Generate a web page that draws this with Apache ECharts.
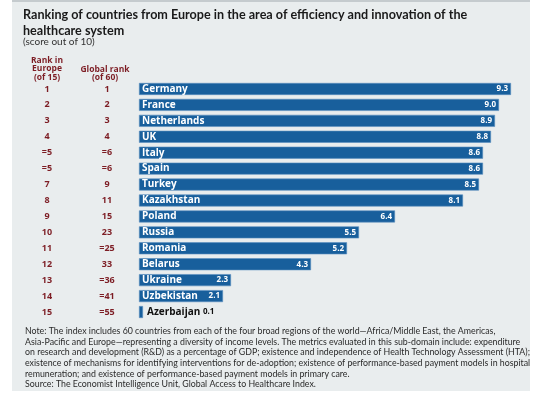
<!DOCTYPE html>
<html>
<head>
<meta charset="utf-8">
<script src="https://cdn.jsdelivr.net/npm/echarts@6/dist/echarts.min.js"></script>
<style>
  html, body { margin: 0; padding: 0; background: #ffffff; }
  #chart { width: 552px; height: 396px; }
</style>
</head>
<body>
<div id="chart"></div>
<script>
// data
var countries = ['Germany', 'France', 'Netherlands', 'UK', 'Italy', 'Spain', 'Turkey', 'Kazakhstan',
  'Poland', 'Russia', 'Romania', 'Belarus', 'Ukraine', 'Uzbekistan', 'Azerbaijan'];
var scores = [9.3, 9.0, 8.9, 8.8, 8.6, 8.6, 8.5, 8.1, 6.4, 5.5, 5.2, 4.3, 2.3, 2.1, 0.1];
var europeRank = ['1', '2', '3', '4', '=5', '=5', '7', '8', '9', '10', '11', '12', '13', '14', '15'];
var globalRank = ['1', '2', '3', '4', '=6', '=6', '9', '11', '15', '23', '=25', '33', '=36', '=41', '=55'];

var FONT = 'Lato';
var BOLD = 'Open Sans';
var RED = '#7d1d24';
var BLUE = '#185f9c';

var note = [
  'Note: The index includes 60 countries from each of the four broad regions of the world\u2014Africa/Middle East, the Americas,',
  'Asia-Pacific and Europe\u2014representing a diversity of income levels. The metrics evaluated in this sub-domain include: expenditure',
  'on research and development (R&D) as a percentage of GDP; existence and independence of Health Technology Assessment (HTA);',
  'existence of mechanisms for identifying interventions for de-adoption; existence of performance-based payment models in hospital',
  'remuneration; and existence of performance-based payment models in primary care.',
  'Source: The Economist Intelligence Unit, Global Access to Healthcare Index.'
].join('\n');

// tiny bars get their label outside in black
var nameData = scores.map(function (v, i) {
  if (v < 1) {
    return {
      value: v,
      label: {
        position: 'right', distance: 4, color: '#111',
        formatter: '{n|' + countries[i] + '} {v|' + v.toFixed(1) + '}',
        rich: {
          n: { fontFamily: BOLD, fontWeight: 'bold', fontSize: 10, color: '#111' },
          v: { fontFamily: BOLD, fontWeight: 'bold', fontSize: 8, color: '#111' }
        }
      }
    };
  }
  return v;
});
var valueData = scores.map(function (v) {
  return v < 1 ? { value: v, label: { show: false } } : v;
});

var chart = echarts.init(document.getElementById('chart'), null, { renderer: 'canvas' });

chart.setOption({
  animation: false,
  backgroundColor: '#ffffff',
  graphic: [
    { type: 'rect', shape: { x: 12, y: 0, width: 518, height: 391 }, style: { fill: '#e9edee' }, z: -10 },
    { type: 'rect', shape: { x: 12, y: 0, width: 518, height: 2 }, style: { fill: '#c5cbce' }, z: -9 },
    {
      type: 'text', left: 23, top: 7,
      style: {
        text: 'Ranking of countries from Europe in the area of efficiency and innovation of the\nhealthcare system',
        font: 'bold 12.6px ' + FONT, fill: '#1a1a1a', lineHeight: 16
      }
    },
    {
      type: 'text', left: 23, top: 37,
      style: { text: '(score out of 10)', font: '10px ' + FONT, fill: '#333' }
    },
    {
      type: 'text', x: 47, y: 56,
      style: { text: 'Rank in\nEurope\n(of 15)', font: 'bold 8.5px "' + BOLD + '"', fill: RED, align: 'center', lineHeight: 8.6 }
    },
    {
      type: 'text', x: 105, y: 65,
      style: { text: 'Global rank\n(of 60)', font: 'bold 8.5px "' + BOLD + '"', fill: RED, align: 'center', lineHeight: 8.6 }
    },
    {
      type: 'text', left: 25, top: 326,
      style: { text: note, font: '8.8px ' + FONT, fill: '#2a2a2a', lineHeight: 10.6 }
    }
  ],
  grid: { left: 139, width: 400, top: 81, height: 239 },
  xAxis: {
    type: 'value', min: 0, max: 10, show: false
  },
  yAxis: {
    type: 'category', inverse: true, data: countries,
    axisLine: { show: false }, axisTick: { show: false }, splitLine: { show: false },
    axisLabel: {
      margin: 12,
      formatter: function (val, i) {
        return '{a|' + europeRank[i] + '}{s|}{b|' + globalRank[i] + '}';
      },
      rich: {
        a: { width: 40, align: 'center', fontFamily: BOLD, fontWeight: 'bold', fontSize: 9, color: RED },
        s: { width: 20 },
        b: { width: 40, align: 'center', fontFamily: BOLD, fontWeight: 'bold', fontSize: 9, color: RED }
      }
    }
  },
  series: [
    {
      type: 'bar', data: nameData, barWidth: 12,
      itemStyle: { color: BLUE, borderColor: '#5b8fbf', borderWidth: 0.6 },
      label: {
        show: true, position: 'insideLeft', distance: 3,
        formatter: function (p) { return countries[p.dataIndex]; },
        fontFamily: BOLD, fontWeight: 'bold', fontSize: 10, color: '#fff'
      },
      z: 2
    },
    {
      type: 'bar', data: valueData, barWidth: 12, barGap: '-100%',
      itemStyle: { color: 'rgba(0,0,0,0)' },
      label: {
        show: true, position: 'insideRight', distance: 3,
        formatter: function (p) { return scores[p.dataIndex].toFixed(1); },
        fontFamily: BOLD, fontWeight: 'bold', fontSize: 8, color: '#fff'
      },
      z: 3
    }
  ]
});
</script>
</body>
</html>
